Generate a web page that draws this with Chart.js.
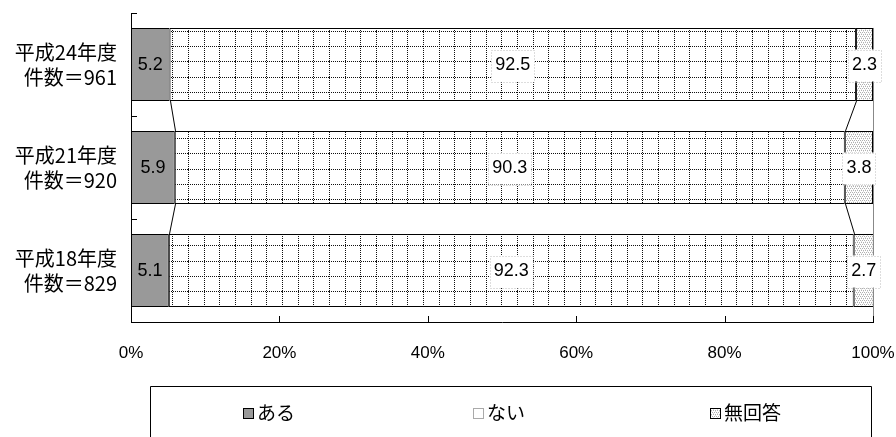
<!DOCTYPE html>
<html>
<head>
<meta charset="utf-8">
<script src="https://cdn.jsdelivr.net/npm/chart.js@4.4.0/dist/chart.umd.min.js"></script>
<style>
html,body{margin:0;padding:0;background:#fff;}
#wrap{position:relative;width:896px;height:437px;}
</style>
</head>
<body>
<div id="wrap"><canvas id="c" width="896" height="437"></canvas></div>
<script>
const categories = [["平成24年度","件数＝961"],["平成21年度","件数＝920"],["平成18年度","件数＝829"]];
const seriesNames = ["ある","ない","無回答"];
const aru = [5.2, 5.9, 5.1];
const nai = [92.5, 90.3, 92.3];
const mukaitou = [2.3, 3.8, 2.7];
const xTicks = [0, 20, 40, 60, 80, 100];

function gridPattern(){
  const c = document.createElement('canvas');
  c.width = 47; c.height = 46;
  const g = c.getContext('2d');
  g.fillStyle = '#fff'; g.fillRect(0,0,47,46);
  g.fillStyle = '#111';
  const vx = [0,16,31], hy = [0,15,31];
  hy.forEach(y=>{ for(let x=0;x<47;x+=2) g.fillRect(x,y,1,1); });
  vx.forEach(x=>{ for(let y=0;y<46;y+=2) g.fillRect(x,y,1,1); });
  return g.createPattern(c,'repeat');
}
function stipplePattern(){
  const c = document.createElement('canvas');
  c.width = 4; c.height = 4;
  const g = c.getContext('2d');
  g.fillStyle = '#fff'; g.fillRect(0,0,4,4);
  g.fillStyle = '#b0b0b0';
  g.fillRect(0,0,1,1); g.fillRect(2,0,1,1);
  g.fillRect(1,2,1,1); g.fillRect(3,2,1,1);
  g.fillStyle = '#dedede';
  g.fillRect(1,1,1,1); g.fillRect(3,3,1,1);
  return g.createPattern(c,'repeat');
}
const patNai = gridPattern();
const patMu = stipplePattern();
const fills = ['#999999', patNai, patMu];
const seriesData = [aru, nai, mukaitou];

const extras = {
  id:'extras',
  afterDatasetsDraw(chart){
    const ctx = chart.ctx;
    const xs = chart.scales.x, ys = chart.scales.y;
    const area = chart.chartArea;
    ctx.save();
    ctx.strokeStyle = '#000'; ctx.lineWidth = 1;
    for (let d=0; d<2; d++){
      const meta = chart.getDatasetMeta(d);
      for (let i=0;i<meta.data.length-1;i++){
        const a = meta.data[i], b = meta.data[i+1];
        ctx.beginPath();
        ctx.moveTo(Math.round(a.x)+0.5, a.y + a.height/2);
        ctx.lineTo(Math.round(b.x)+0.5, b.y - b.height/2);
        ctx.stroke();
      }
    }
    const m0 = chart.getDatasetMeta(0).data[0];
    const rx = Math.round(xs.getPixelForValue(100))+0.5;
    ctx.strokeStyle = '#888';
    ctx.beginPath(); ctx.moveTo(rx, m0.y - m0.height/2); ctx.lineTo(rx, area.bottom); ctx.stroke();
    ctx.strokeStyle = '#000';
    xTicks.forEach(v=>{
      const px = Math.round(xs.getPixelForValue(v))+0.5;
      ctx.beginPath(); ctx.moveTo(px, area.bottom); ctx.lineTo(px, area.bottom-6); ctx.stroke();
    });
    const n = categories.length;
    for (let i=0;i<n;i++){
      const y0 = i===0 ? area.top : (ys.getPixelForValue(i-1)+ys.getPixelForValue(i))/2;
      const py = Math.round(y0)+0.5;
      ctx.beginPath(); ctx.moveTo(area.left, py); ctx.lineTo(area.left+6, py); ctx.stroke();
    }
    ctx.font = '18px "Liberation Sans", Arial, sans-serif';
    ctx.textAlign = 'center'; ctx.textBaseline = 'middle';
    chart.data.datasets.forEach((ds, d)=>{
      const meta = chart.getDatasetMeta(d);
      meta.data.forEach((el, i)=>{
        const txt = ds.data[i].toFixed(1);
        const cx = (el.x + el.base)/2, cy = el.y + 1;
        if (d>0){
          const w = ctx.measureText(txt).width + 8;
          const h = 32;
          ctx.fillStyle = '#fff';
          ctx.fillRect(cx - w/2, cy - h/2, w, h);
          ctx.strokeStyle = '#bbb';
          ctx.setLineDash([1,2]);
          ctx.strokeRect(Math.round(cx - w/2)+0.5, Math.round(cy - h/2)+0.5, Math.round(w), h);
          ctx.setLineDash([]);
        }
        ctx.fillStyle = '#000';
        ctx.fillText(txt, cx, cy);
      });
    });
    ctx.strokeStyle = '#000'; ctx.lineWidth = 1;
    ctx.beginPath();
    ctx.moveTo(150.5, 440); ctx.lineTo(150.5, 386.5); ctx.lineTo(871.5, 386.5); ctx.lineTo(871.5, 440);
    ctx.stroke();
    const lx = [243, 473, 710];
    ctx.font = '19px "Noto Sans CJK JP", sans-serif';
    ctx.textAlign = 'left';
    seriesNames.forEach((nm, i)=>{
      const sx = lx[i], sy = 408;
      ctx.fillStyle = i===1 ? '#fff' : fills[i];
      ctx.fillRect(sx, sy, 10, 10);
      ctx.strokeStyle = i===1 ? '#555' : '#000';
      if (i===1) ctx.setLineDash([1,1]);
      ctx.strokeRect(sx+0.5, sy+0.5, 10, 10);
      ctx.setLineDash([]);
      ctx.fillStyle = '#000';
      ctx.fillText(nm, sx + 14, 413);
    });
    ctx.restore();
  }
};

new Chart(document.getElementById('c'), {
  type: 'bar',
  data: {
    labels: categories,
    datasets: seriesNames.map((nm, i)=>({
      label: nm,
      data: seriesData[i],
      backgroundColor: fills[i],
      borderColor: '#000',
      borderWidth: 1,
      borderSkipped: false,
      categoryPercentage: 1.0,
      barPercentage: 0.71
    }))
  },
  options: {
    indexAxis: 'y',
    responsive: false,
    animation: false,
    layout: { padding: { left: 0, right: 23, top: 13, bottom: 0 } },
    plugins: { legend: { display: false }, tooltip: { enabled: false } },
    scales: {
      x: {
        stacked: true, min: 0, max: 100,
        afterBuildTicks(s){ s.ticks = xTicks.map(v=>({value:v})); },
        afterFit(s){ s.height = 115; s.paddingLeft = 0; s.paddingRight = 0; },
        grid: { display: false, drawTicks: false },
        border: { display: true, color: '#000', width: 1 },
        ticks: { callback: v => v + '%', color: '#000', padding: 21, maxRotation: 0,
                 font: { family: '"Liberation Sans", Arial, sans-serif', size: 17 } }
      },
      y: {
        stacked: true,
        afterFit(s){ s.width = 131; s.paddingTop = 0; s.paddingBottom = 0; },
        grid: { display: false, drawTicks: false },
        border: { display: true, color: '#000', width: 1 },
        ticks: { color: '#000', padding: 14,
                 font: { family: '"Noto Sans CJK JP", sans-serif', size: 20, lineHeight: 1.25 } }
      }
    }
  },
  plugins: [extras]
});
</script>
</body>
</html>
